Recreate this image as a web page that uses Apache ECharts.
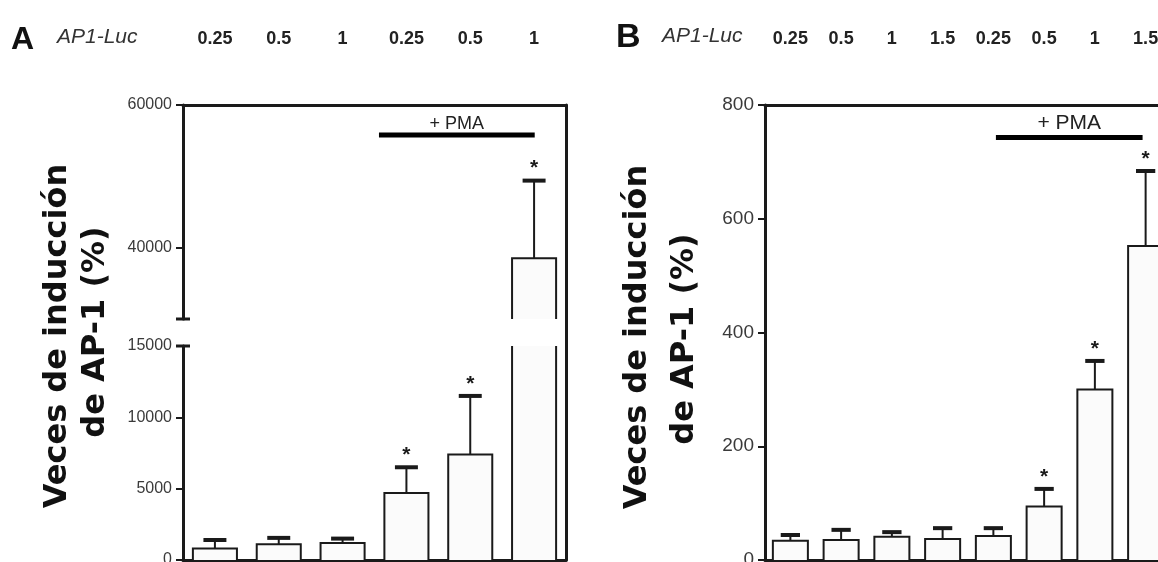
<!DOCTYPE html>
<html><head><meta charset="utf-8">
<script src="https://cdn.jsdelivr.net/npm/echarts@6/dist/echarts.min.js"></script>
<style>html,body{margin:0;padding:0;background:#fff}#c{width:1158px;height:562px}</style>
</head><body><div id="c"></div>
<script>
// ---------- data ----------
const doseLabelsA = ['0.25', '0.5', '1', '0.25', '0.5', '1'];
const meanA = [800, 1100, 1200, 4700, 7400, 38500];
const semA = [600, 450, 300, 1800, 4100, 10900];
const sigA = [0, 0, 0, 1, 1, 1];
const yTicksAUpper = [40000, 60000];
const yTicksALower = [0, 5000, 10000, 15000];
const pmaA = [2.57, 5.01, 55800];

const doseLabelsB = ['0.25', '0.5', '1', '1.5', '0.25', '0.5', '1', '1.5'];
const meanB = [34, 35, 41, 37, 42, 94, 300, 552];
const semB = [10, 18, 8, 19, 14, 31, 50, 132];
const sigB = [0, 0, 0, 0, 0, 1, 1, 1];
const yTicksB = [0, 200, 400, 600, 800];
const pmaB = [4.05, 6.94, 743];

const titleLine1 = 'Veces de inducción';
const titleLine2 = 'de AP-1 (%)';
const constructLabel = 'AP1-Luc';
const pmaLabel = '+ PMA';

// ---------- layout ----------
const AX = 183, AW = 383, BX = 765, BW = 406;
const TOP = 105, A_UP_H = 214, A_LOW_TOP = 346, A_LOW_H = 214, FULL_H = 455;
const INK = '#1a1a1a';
const FONT = '"Liberation Sans", Arial, sans-serif';

function makeBars(yMin, yMax, barFrac, capFrac, starSize, starOff) {
  return function (params, api) {
    const i = api.value(0), m = api.value(1), e = api.value(2), s = api.value(3);
    if (m <= yMin) return null;
    const unit = api.size([1, 0])[0];
    const w = unit * barFrac;
    const base = api.coord([i, yMin]);
    const clipped = m > yMax;
    const top = api.coord([i, clipped ? yMax : m]);
    const l = base[0] - w / 2, r = base[0] + w / 2;
    const stroke = { stroke: INK, lineWidth: 2, fill: null };
    const children = [{ type: 'rect', shape: { x: l, y: top[1], width: w, height: base[1] - top[1] }, style: { fill: '#fbfbfb' } }];
    if (clipped) {
      children.push({ type: 'polyline', shape: { points: [[l, base[1]], [l, top[1]]] }, style: stroke });
      children.push({ type: 'polyline', shape: { points: [[r, base[1]], [r, top[1]]] }, style: stroke });
    } else {
      children.push({ type: 'polyline', shape: { points: [[l, base[1]], [l, top[1]], [r, top[1]], [r, base[1]]] }, style: stroke });
      const et = api.coord([i, m + e]);
      const cw = unit * capFrac;
      children.push({ type: 'line', shape: { x1: top[0], y1: top[1], x2: et[0], y2: et[1] }, style: { stroke: INK, lineWidth: 2 } });
      children.push({ type: 'line', shape: { x1: et[0] - cw / 2, y1: et[1], x2: et[0] + cw / 2, y2: et[1] }, style: { stroke: INK, lineWidth: 4 } });
      if (s) children.push({ type: 'text', style: { text: '*', x: et[0], y: et[1] - starOff, align: 'center', verticalAlign: 'middle', font: 'bold ' + starSize + 'px ' + FONT, fill: INK } });
    }
    return { type: 'group', children: children };
  };
}

function makePma(fontSize, textOff) {
  return function (params, api) {
    const p0 = api.coord([api.value(0), api.value(2)]);
    const p1 = api.coord([api.value(1), api.value(2)]);
    return {
      type: 'group', children: [
        { type: 'line', shape: { x1: p0[0], y1: p0[1], x2: p1[0], y2: p1[1] }, style: { stroke: '#000', lineWidth: 5 } },
        { type: 'text', style: { text: pmaLabel, x: (p0[0] + p1[0]) / 2, y: p0[1] - textOff, align: 'center', verticalAlign: 'middle', font: fontSize + 'px ' + FONT, fill: '#222' } }
      ]
    };
  };
}

const lineStyle = { color: INK, width: 3 };
function hiddenX(grid, max) {
  return { gridIndex: grid, type: 'value', min: -0.5, max: max, show: false };
}
function bottomX(grid, max) {
  return { gridIndex: grid, type: 'value', min: -0.5, max: max, position: 'bottom',
    axisLine: { show: true, onZero: false, lineStyle: lineStyle }, axisTick: { show: false }, axisLabel: { show: false }, splitLine: { show: false } };
}
function topCat(grid, data) {
  return { gridIndex: grid, type: 'category', data: data, position: 'top', boundaryGap: true,
    axisLine: { show: true, onZero: false, lineStyle: lineStyle }, axisTick: { show: false },
    axisLabel: { show: true, interval: 0, margin: 66, verticalAlign: 'middle', fontFamily: FONT, fontWeight: 'bold', fontSize: 18, color: '#222' },
    splitLine: { show: false } };
}
function rightFrame(grid) {
  return { gridIndex: grid, type: 'value', min: 0, max: 1, position: 'right',
    axisLine: { show: true, onZero: false, lineStyle: lineStyle }, axisTick: { show: false }, axisLabel: { show: false }, splitLine: { show: false } };
}
function leftY(grid, min, max, ticks, fontSize) {
  return { gridIndex: grid, type: 'value', min: min, max: max, position: 'left',
    axisLine: { show: true, onZero: false, lineStyle: lineStyle },
    axisTick: { show: true, length: 7, customValues: ticks, lineStyle: { color: INK, width: 2 } },
    axisLabel: { show: true, customValues: ticks, margin: 11, fontFamily: FONT, fontSize: fontSize, color: '#3a3a3a',
      formatter: function (v) { return String(v); } },
    splitLine: { show: false } };
}

const chart = echarts.init(document.getElementById('c'));
const titleFont = 'bold 32px "DejaVu Sans", sans-serif';

chart.setOption({
  animation: false,
  backgroundColor: '#fff',
  grid: [
    { left: AX, top: TOP, width: AW, height: A_UP_H, outerBoundsMode: 'none' },
    { left: AX, top: A_LOW_TOP, width: AW, height: A_LOW_H, outerBoundsMode: 'none' },
    { left: AX, top: TOP, width: AW, height: FULL_H, outerBoundsMode: 'none' },
    { left: BX, top: TOP, width: BW, height: FULL_H, outerBoundsMode: 'none' }
  ],
  xAxis: [
    hiddenX(0, doseLabelsA.length - 0.5),
    bottomX(1, doseLabelsA.length - 0.5),
    topCat(2, doseLabelsA),
    bottomX(3, doseLabelsB.length - 0.5),
    topCat(3, doseLabelsB)
  ],
  yAxis: [
    leftY(0, 30000, 60000, yTicksAUpper, 16),
    leftY(1, 0, 15000, yTicksALower, 16),
    rightFrame(2),
    leftY(3, 0, 800, yTicksB, 19),
    rightFrame(3)
  ],
  series: [
    { type: 'custom', xAxisIndex: 0, yAxisIndex: 0, clip: false, renderItem: makeBars(30000, 60000, 0.69, 0.36, 21, 12),
      data: meanA.map((m, i) => [i, m, semA[i], sigA[i]]) },
    { type: 'custom', xAxisIndex: 1, yAxisIndex: 1, clip: false, renderItem: makeBars(0, 15000, 0.69, 0.36, 21, 12),
      data: meanA.map((m, i) => [i, m, semA[i], sigA[i]]) },
    { type: 'custom', xAxisIndex: 0, yAxisIndex: 0, clip: false, renderItem: makePma(18, 11), data: [pmaA] },
    { type: 'custom', xAxisIndex: 3, yAxisIndex: 3, clip: false, renderItem: makeBars(0, 800, 0.69, 0.38, 21, 12),
      data: meanB.map((m, i) => [i, m, semB[i], sigB[i]]) },
    { type: 'custom', xAxisIndex: 3, yAxisIndex: 3, clip: false, renderItem: makePma(21, 14), data: [pmaB] }
  ],
  graphic: [
    { type: 'text', left: 11, top: 24, style: { text: 'A', font: 'bold 32px ' + FONT, fill: '#111' } },
    { type: 'text', left: 616, top: 21, style: { text: 'B', font: 'bold 34px ' + FONT, fill: '#111' } },
    { type: 'text', x: 57, y: 37, style: { text: constructLabel, font: 'italic 21px ' + FONT, fill: '#333', verticalAlign: 'middle' } },
    { type: 'text', x: 662, y: 36, style: { text: constructLabel, font: 'italic 21px ' + FONT, fill: '#333', verticalAlign: 'middle' } },
    { type: 'text', x: 58, y: 336, rotation: Math.PI / 2, style: { text: titleLine1, font: titleFont, fill: '#111', align: 'center', verticalAlign: 'middle' } },
    { type: 'text', x: 96, y: 332, rotation: Math.PI / 2, style: { text: titleLine2, font: titleFont, fill: '#111', align: 'center', verticalAlign: 'middle' } },
    { type: 'text', x: 638, y: 337, rotation: Math.PI / 2, style: { text: titleLine1, font: titleFont, fill: '#111', align: 'center', verticalAlign: 'middle' } },
    { type: 'text', x: 685, y: 339, rotation: Math.PI / 2, style: { text: titleLine2, font: titleFont, fill: '#111', align: 'center', verticalAlign: 'middle' } },
    { type: 'line', shape: { x1: AX - 7, y1: TOP + A_UP_H, x2: AX + 7, y2: TOP + A_UP_H }, style: { stroke: INK, lineWidth: 3 } },
    { type: 'line', shape: { x1: AX - 7, y1: A_LOW_TOP, x2: AX + 7, y2: A_LOW_TOP }, style: { stroke: INK, lineWidth: 3 } }
  ]
});
</script></body></html>
